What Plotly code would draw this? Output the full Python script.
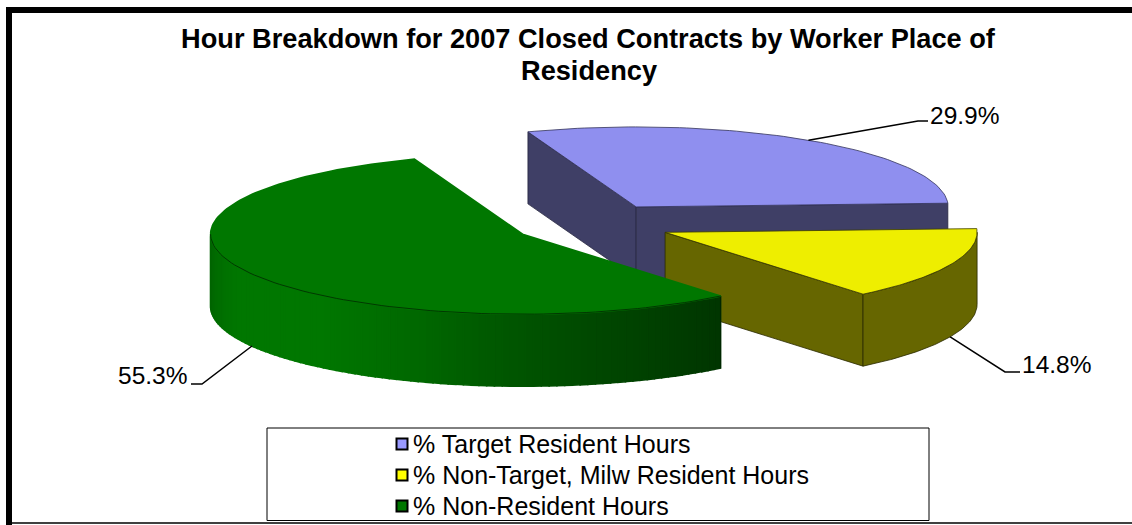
import math
import plotly.graph_objects as go

categories = ["% Target Resident Hours", "% Non-Target, Milw Resident Hours", "% Non-Resident Hours"]
values = [29.9, 14.8, 55.3]
top_colors = ["#8F8FEF", "#EEEE00", "#007700"]
wall_colors = ["#3F3F66", "#666600", "#004400"]
legend_colors = ["#9999FF", "#FFFF00", "#007700"]
legend_rows = [444, 475, 506]
label_anchor = [(918, 121, 926, 115, "left"), (1005, 372, 1018, 364, "left"), (202, 384, 191, 375, "right")]
title_lines = ["Hour Breakdown for 2007 Closed Contracts by Worker Place of", "Residency"]
FONT = "Liberation Sans, Arial"

# pie projection settings (pixel-based plot space)
CX, CY, RX, RY, DEPTH, EXPLODE, START = 592, 224, 312, 80, 72, 80, -20.3


def pt(c, t, dz=0):
    r = math.radians(t)
    return c[0] + RX * math.sin(r), c[1] - RY * math.cos(r) + dz


def arc(c, a, b, dz=0, n=80):
    return [pt(c, a + (b - a) * i / n, dz) for i in range(n + 1)]


def poly(fig, pts, fill, line=None, width=0.8):
    xs = [p[0] for p in pts] + [pts[0][0]]
    ys = [p[1] for p in pts] + [pts[0][1]]
    fig.add_trace(go.Scatter(x=xs, y=ys, mode="lines", fill="toself", fillcolor=fill,
                             line=dict(color=line or fill, width=width if line else 1.6),
                             hoverinfo="skip", showlegend=False))


def green_shade(t):
    # wall shade along the visible rim: light near the left, dark toward the right
    stops = [(140.7, (0, 54, 0)), (165, (0, 70, 0)), (185, (0, 88, 0)), (200, (0, 104, 0)), (220, (0, 119, 0)),
             (245, (0, 119, 0)), (270, (0, 100, 0))]
    for (a, ca), (b, cb) in zip(stops, stops[1:]):
        if a <= t <= b:
            f = (t - a) / (b - a)
            return "rgb(%d,%d,%d)" % tuple(round(x + (y - x) * f) for x, y in zip(ca, cb))
    return "rgb(0,100,0)"


fig = go.Figure()
angles = []
s = START
for v in values:
    angles.append((s, s + v * 3.6))
    s += v * 3.6

centers = []
for a, b in angles:
    m = math.radians((a + b) / 2)
    centers.append((CX + EXPLODE * math.sin(m), CY - EXPLODE * RY / RX * math.cos(m)))

# blue slice
c, (a, b) = centers[0], angles[0]
p1, p2 = pt(c, a), pt(c, b)
poly(fig, [p1, c, (c[0], c[1] + DEPTH), (p1[0], p1[1] + DEPTH)], wall_colors[0], "#26263F")
poly(fig, [c, p2, (p2[0], p2[1] + DEPTH), (c[0], c[1] + DEPTH)], wall_colors[0], "#26263F")
poly(fig, [c] + arc(c, a, b), top_colors[0], "#33335A")

# yellow slice
c, (a, b) = centers[1], angles[1]
p2 = pt(c, b)
poly(fig, [c, p2, (p2[0], p2[1] + DEPTH), (c[0], c[1] + DEPTH)], wall_colors[1], "#2A2A00")
poly(fig, arc(c, 90, b) + arc(c, b, 90, DEPTH), wall_colors[1], "#2A2A00")
poly(fig, [c] + arc(c, a, b), top_colors[1], "#3A3A00")

# green slice: shaded outer wall made of narrow strips
c, (a, b) = centers[2], angles[2]
n_strip = 90
for i in range(n_strip):
    t0 = a + (270 - a) * i / n_strip
    t1 = a + (270 - a) * (i + 1) / n_strip
    poly(fig, arc(c, t0, t1, 0, 2) + arc(c, t1, t0, DEPTH, 2), green_shade((t0 + t1) / 2))
fig.add_trace(go.Scatter(x=[pt(c, a)[0], pt(c, a, DEPTH)[0]], y=[pt(c, a)[1], pt(c, a, DEPTH)[1]], mode="lines",
                         line=dict(color="#002200", width=0.8), hoverinfo="skip", showlegend=False))
poly(fig, [c] + arc(c, a, b, 0, 160), top_colors[2], None)
edge = arc(c, a, 270)
fig.add_trace(go.Scatter(x=[p[0] for p in edge], y=[p[1] for p in edge], mode="lines",
                         line=dict(color="#002800", width=0.8), hoverinfo="skip", showlegend=False))

# leader lines and percent labels
annotations = []
for i, (v, anc) in enumerate(zip(values, label_anchor)):
    a, b = angles[i]
    m = (a + b) / 2
    dz = DEPTH if 90 < m < 270 else 0
    st = pt(centers[i], m, dz)
    ex, ey, tx, ty, al = anc
    fig.add_trace(go.Scatter(x=[st[0], ex, tx + (2 if al == "left" else 0)], y=[st[1], ey, ey], mode="lines",
                             line=dict(color="black", width=1.5), hoverinfo="skip", showlegend=False))
    annotations.append(dict(x=tx + (2 if al == "left" else -2), y=ty, xref="x", yref="y", text=f"{v:.1f}%",
                            showarrow=False, xanchor=al, yanchor="middle",
                            font=dict(family=FONT, size=24.5, color="black")))

# legend: swatches and names drawn inside the framed box
fig.add_trace(go.Scatter(x=[402] * len(categories), y=legend_rows, mode="markers", hoverinfo="skip", showlegend=False,
                         marker=dict(symbol="square", size=11, color=legend_colors, line=dict(color="black", width=2))))
for name, row in zip(categories, legend_rows):
    annotations.append(dict(x=414, y=row, xref="x", yref="y", text=name, showarrow=False, xanchor="left",
                            yanchor="middle", xshift=-3, font=dict(family=FONT, size=25, color="black")))

# second title line
annotations.append(dict(x=589, y=70, xref="x", yref="y", text=title_lines[1], showarrow=False, xanchor="center",
                        yanchor="middle", font=dict(family=FONT, size=27.2, color="black", weight="bold")))

fig.update_layout(
    width=1132, height=525, margin=dict(l=0, r=0, t=0, b=0), paper_bgcolor="white", plot_bgcolor="white",
    showlegend=False,
    xaxis=dict(range=[0, 1132], visible=False, fixedrange=True),
    yaxis=dict(range=[525, 0], visible=False, fixedrange=True),
    annotations=annotations,
    title=dict(text=title_lines[0], x=588 / 1132, xanchor="center", y=1 - 38 / 525, yanchor="middle",
               font=dict(family=FONT, size=27.2, color="black", weight="bold")),
    shapes=[
        dict(type="path", path="M 9 530 L 9 10 L 1140 10", line=dict(color="black", width=6), xref="x", yref="y", layer="below"),
        dict(type="line", x0=12, x1=1132, y0=523, y1=523, line=dict(color="black", width=1.5), xref="x", yref="y", layer="below"),
        dict(type="rect", x0=267, x1=929, y0=428, y1=520.5, line=dict(color="black", width=1), fillcolor="white", xref="x", yref="y", layer="below"),
    ],
)
fig.write_html("out.html", config=dict(displayModeBar=False),
               post_script="document.body.style.margin='0';document.body.style.overflow='hidden';")
